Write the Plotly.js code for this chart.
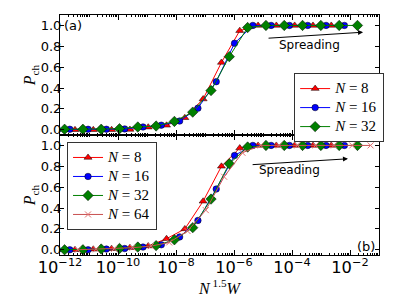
<!DOCTYPE html>
<html>
<head>
<meta charset="utf-8">
<script src="https://cdn.plot.ly/plotly-3.0.1.min.js"></script>
<style>html,body{margin:0;padding:0;background:#fff;}#chart{width:399px;height:301px;}</style>
</head>
<body>
<div id="chart"></div>
<script>
// W grid (disorder strength), x axis quantity is N^1.5 * W
var W = [7.94e-15, 3.40e-14, 1.454e-13, 6.22e-13, 2.66e-12, 1.138e-11, 4.87e-11, 2.084e-10,
         8.91e-10, 3.81e-9, 1.631e-8, 6.98e-8, 2.985e-7, 1.276e-6, 5.46e-6, 2.339e-5, 1.0e-4];
var sizes = [8, 16, 32, 64];
var seriesNames = ['N = 8', 'N = 16', 'N = 32', 'N = 64'];

// panel (a)
var pa_N8  = [0, 0, 0, 0, 0, 0.003, 0.025, 0.043, 0.115, 0.295, 0.645, 0.95, 1, 1, 1, 1, 1];
var pa_N16 = [0, 0.005, 0.005, 0.005, 0.008, 0.027, 0.044, 0.084, 0.207, 0.461, 0.829, 1, 1, 1, 1, 1, 1];
var pa_N32 = [0.005, 0.005, 0.005, 0.01, 0.027, 0.036, 0.08, 0.169, 0.376, 0.701, 0.98, 1, 1, 1, 1, 1, 1];

// panel (b)
var pb_N8  = [0, 0, 0, 0.005, 0.01, 0.02, 0.036, 0.106, 0.2, 0.465, 0.80, 0.975, 1, 1, 1, 1, 1];
var pb_N16 = [0, 0, 0, 0.007, 0.012, 0.026, 0.048, 0.123, 0.281, 0.582, 0.904, 1, 1, 1, 1, 1, 1];
var pb_N32 = [0, 0, 0.007, 0.012, 0.026, 0.04, 0.096, 0.212, 0.486, 0.825, 0.985, 1, 1, 1, 1, 1, 1];
var pb_N64 = [0, 0.005, 0.01, 0.02, 0.035, 0.07, 0.18, 0.38, 0.70, 0.93, 1, 1, 1, 1, 1, 1, 1];

var yTicks = [0, 0.2, 0.4, 0.6, 0.8, 1.0];

function xs(N) { var f = Math.pow(N, 1.5); return W.map(function (w) { return w * f; }); }

function legText(name) {
  var parts = name.split(' = ');
  return '<span style="font-size:15px"><i>' + parts[0] + '</i> = ' + parts[1] + '</span>';
}

var styles = [
  {line: '#ff0000', symbol: 'triangle-up', size: 7, fill: '#ff0000', edge: '#000', ew: 0.5},
  {line: '#0000ff', symbol: 'circle', size: 6.5, fill: '#0000ff', edge: '#000', ew: 0.5},
  {line: '#008000', symbol: 'diamond', size: 8, fill: '#008000', edge: '#000', ew: 0.5},
  {line: '#c85050', symbol: 'x-thin', size: 6, fill: '#e07070', edge: '#e07070', ew: 1}
];

function tr(i, y, xa, ya, leg) {
  var s = styles[i];
  return {
    x: xs(sizes[i]), y: y, xaxis: xa, yaxis: ya, type: 'scatter', mode: 'lines+markers',
    name: legText(seriesNames[i]), legend: leg, cliponaxis: true,
    line: {color: s.line, width: 1},
    marker: {symbol: s.symbol, size: s.size, color: s.fill, line: {color: s.edge, width: s.ew}}
  };
}

var data = [
  tr(0, pa_N8, 'x', 'y', 'legend2'),
  tr(1, pa_N16, 'x', 'y', 'legend2'),
  tr(2, pa_N32, 'x', 'y', 'legend2'),
  tr(0, pb_N8, 'x2', 'y2', 'legend'),
  tr(1, pb_N16, 'x2', 'y2', 'legend'),
  tr(2, pb_N32, 'x2', 'y2', 'legend'),
  tr(3, pb_N64, 'x2', 'y2', 'legend')
];

var tickFont = {family: 'DejaVu Sans', size: 13, color: '#000'};
var mathFont = {family: 'Liberation Serif', size: 16, color: '#000'};

function xAxis(anchor, labels) {
  return {
    type: 'log', range: [-12, -1], anchor: anchor, domain: [0, 1],
    dtick: 2, tick0: 0, exponentformat: 'power', showexponent: 'all',
    showticklabels: labels, ticks: 'inside', ticklen: 5, tickwidth: 1, tickcolor: '#000',
    ticklabelstandoff: -2,
    minor: {ticks: 'inside', ticklen: 2, tickcolor: '#000', dtick: 'D1'},
    showline: true, linecolor: '#000', linewidth: 1, mirror: 'allticks',
    showgrid: false, zeroline: false, tickfont: tickFont
  };
}
function yAxis(anchor, dom) {
  return {
    range: [-0.05, 1.1], domain: dom, anchor: anchor, tickvals: yTicks, tickformat: '.1f',
    ticks: 'inside', ticklen: 4, tickwidth: 1, tickcolor: '#000',
    ticklabelstandoff: -5,
    showline: true, linecolor: '#000', linewidth: 1, mirror: 'allticks',
    showgrid: false, zeroline: false, tickfont: tickFont,
    title: {text: '<i>P</i><sub>ch</sub>', font: mathFont, standoff: 0}
  };
}

var xa2 = xAxis('y2', true);
xa2.matches = 'x';
xa2.title = {text: '<i>N</i><sup> 1.5</sup><i>W</i>', font: mathFont, standoff: 3};

var legCommon = {
  xanchor: 'left', yanchor: 'top', bgcolor: '#fff', bordercolor: '#333', borderwidth: 1,
  font: {family: 'Liberation Serif', size: 11, color: '#000'}, itemwidth: 30, tracegroupgap: 0
};

var layout = {
  width: 399, height: 301,
  margin: {l: 60, r: 20, t: 15, b: 46},
  paper_bgcolor: '#fff', plot_bgcolor: '#fff',
  showlegend: true,
  xaxis: xAxis('y', false),
  xaxis2: xa2,
  yaxis: yAxis('x', [0.5, 1]),
  yaxis2: yAxis('x2', [0, 0.5]),
  legend: Object.assign({x: 0.022, y: 0.471}, legCommon),
  legend2: Object.assign({x: 0.734, y: 0.758}, legCommon),
  annotations: [
    {xref: 'paper', yref: 'paper', x: 0.006, y: 0.958, xanchor: 'left', yanchor: 'middle',
     text: '(a)', showarrow: false, font: {family: 'DejaVu Sans', size: 13, color: '#000'}},
    {xref: 'paper', yref: 'paper', x: 0.994, y: 0.037, xanchor: 'right', yanchor: 'middle',
     text: '(b)', showarrow: false, font: {family: 'DejaVu Sans', size: 13, color: '#000'}},
    {xref: 'x', yref: 'y', x: -3.4, y: 0.81, text: 'Spreading', showarrow: false,
     font: {family: 'DejaVu Sans', size: 12, color: '#000'}},
    {xref: 'x2', yref: 'y2', x: -4.1, y: 0.76, text: 'Spreading', showarrow: false,
     font: {family: 'DejaVu Sans', size: 12, color: '#000'}},
    {xref: 'x', yref: 'y', x: -1.55, y: 0.935, axref: 'x', ayref: 'y', ax: -4.86, ay: 0.877,
     text: '', showarrow: true, arrowhead: 2, arrowsize: 1, arrowwidth: 1, arrowcolor: '#000'},
    {xref: 'x2', yref: 'y2', x: -2.07, y: 0.872, axref: 'x2', ayref: 'y2', ax: -5.41, ay: 0.815,
     text: '', showarrow: true, arrowhead: 2, arrowsize: 1, arrowwidth: 1, arrowcolor: '#000'}
  ]
};

Plotly.newPlot('chart', data, layout, {staticPlot: true, displayModeBar: false});
</script>
</body>
</html>
